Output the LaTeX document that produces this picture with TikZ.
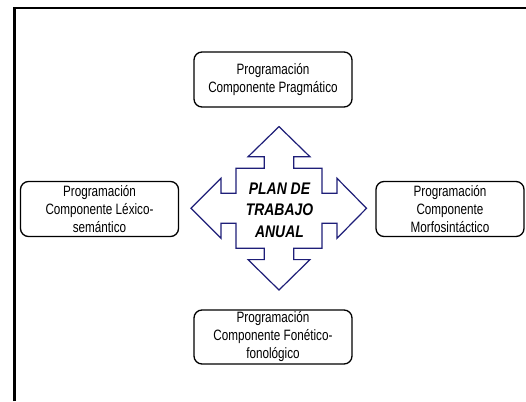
\documentclass[tikz,border=0pt]{standalone}
\usepackage{fontspec}
\setmainfont[FakeStretch=0.78]{Liberation Sans}
\newfontfamily\planfont[FakeStretch=0.83]{Liberation Sans}
\definecolor{navy}{RGB}{30,30,120}
\begin{document}
\begin{tikzpicture}[x=1pt,y=-1pt,
  box/.style={draw, rounded corners=8pt, line width=1.3pt, minimum height=55pt,
    inner sep=0pt, align=center, font=\fontsize{15}{18}\selectfont},
  cross/.style={draw=navy, line width=1.2pt, line join=miter},
  plantext/.style={align=center, inner sep=0pt,
    font=\planfont\bfseries\itshape\fontsize{16.8}{21.5}\selectfont}]
\useasboundingbox (0,0) rectangle (526,401);
\fill[white] (0,0) rectangle (526,401);
% frame
\draw[line width=2.5pt] (14.5,401) -- (14.5,8) -- (526,8);
% boxes
\node[box, minimum width=158pt] (prag) at (273,79.5) {Programación\\Componente Pragmático};
\node[box, minimum width=158pt] (lex) at (99.5,209) {Programación\\Componente Léxico-\\semántico};
\node[box, minimum width=148pt] (morf) at (450,209) {Programación\\Componente\\Morfosintáctico};
\node[box, minimum width=158pt, minimum height=54pt] (fon) at (273,337) {Programación\\Componente Fonético-\\fonológico};
% four-way arrow
\begin{scope}[shift={(279,208.3)}]
\draw[cross] (0,-81.7) -- (31,-51.5) -- (14.8,-51.5) -- (14.8,-40) -- (43,-40) -- (43,-15)
  -- (58,-15) -- (58,-30) -- (87.5,0) -- (58,30) -- (58,15) -- (43,15) -- (43,40)
  -- (14.8,40) -- (14.8,51.3) -- (31,51.3) -- (0,81.7) -- (-31,51.3) -- (-14.8,51.3)
  -- (-14.8,40) -- (-43,40) -- (-43,15) -- (-58,15) -- (-58,30) -- (-88,0) -- (-58,-30)
  -- (-58,-15) -- (-43,-15) -- (-43,-40) -- (-14.8,-40) -- (-14.8,-51.5) -- (-31,-51.5) -- cycle;
\end{scope}
\node[plantext] (plan) at (279.5,210) {PLAN DE\\TRABAJO\\ANUAL};
\end{tikzpicture}
\end{document}
